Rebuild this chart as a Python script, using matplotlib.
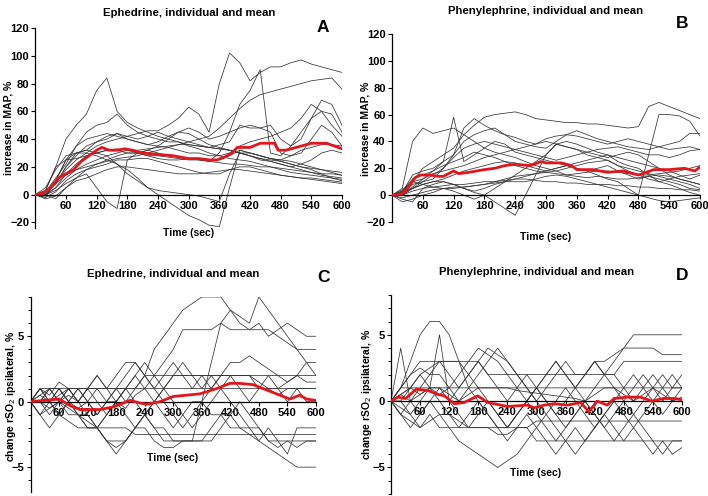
import matplotlib
matplotlib.use("Agg")
import matplotlib.pyplot as plt
from matplotlib.ticker import MultipleLocator, FixedLocator

# ---------------- data ----------------
t_ind = [0, 20, 40, 60, 80, 100, 120, 140, 160, 180, 200, 220, 240, 260, 280, 300,
         320, 340, 360, 380, 400, 420, 440, 460, 480, 500, 520, 540, 560, 580, 600]
x_ticks = [60, 120, 180, 240, 300, 360, 420, 480, 540, 600]

# Panel A: ephedrine, increase in MAP (%)
a_lines = [
    [0, 3, 20, 40, 50, 58, 75, 84, 60, 52, 48, 45, 42, 40, 38, 35, 33, 30, 28, 26, 25, 24, 22, 20, 18, 16, 15, 14, 13, 12, 11],
    [0, 2, 8, 18, 25, 30, 35, 38, 40, 42, 44, 46, 46, 50, 55, 63, 58, 45, 80, 102, 95, 82, 88, 92, 92, 95, 97, 94, 92, 90, 88],
    [0, 0, 5, 15, 22, 28, 30, 32, 32, 30, 30, 28, 28, 27, 26, 25, 25, 24, 30, 45, 65, 75, 90, 30, 28, 35, 45, 55, 60, 58, 45],
    [0, -2, 10, 25, 30, 30, 28, 25, 22, 18, 12, 5, 0, -5, -10, -15, -18, -22, -23, 5, 32, 30, 28, 26, 24, 22, 20, 18, 15, 12, 10],
    [0, 0, -3, 5, 12, 15, 5, -5, -10, 25, 30, 32, 30, 28, 27, 26, 25, 24, 23, 22, 22, 21, 20, 20, 19, 18, 17, 16, 15, 15, 14],
    [0, 0, 8, 20, 30, 32, 30, 28, 22, 15, 10, 5, 3, 2, 1, 0, -1, -3, -5, 15, 30, 28, 26, 25, 24, 22, 20, 19, 18, 17, 16],
    [0, 2, 12, 22, 35, 40, 42, 44, 42, 40, 38, 36, 35, 34, 32, 30, 30, 28, 28, 30, 35, 38, 40, 42, 45, 48, 55, 65, 60, 50, 42],
    [0, 5, 18, 28, 30, 32, 38, 40, 44, 42, 40, 42, 45, 42, 40, 38, 36, 34, 36, 38, 50, 48, 48, 50, 40, 35, 40, 55, 68, 65, 50],
    [0, -2, 2, 10, 15, 18, 20, 22, 25, 25, 26, 26, 24, 22, 20, 18, 16, 15, 15, 18, 20, 20, 18, 16, 14, 13, 12, 12, 11, 10, 9],
    [0, 3, 20, 25, 26, 28, 30, 32, 33, 32, 30, 28, 26, 25, 25, 26, 26, 25, 25, 28, 32, 30, 28, 26, 25, 28, 32, 34, 36, 36, 35],
    [0, 0, 5, 12, 18, 22, 25, 28, 30, 32, 32, 33, 34, 35, 36, 36, 35, 34, 33, 32, 30, 28, 26, 24, 22, 20, 18, 16, 14, 13, 12],
    [0, 1, 8, 20, 28, 35, 38, 42, 44, 40, 38, 36, 38, 42, 45, 44, 40, 36, 34, 32, 30, 28, 25, 24, 22, 20, 22, 25, 30, 32, 30],
    [0, 2, 8, 14, 18, 20, 22, 24, 26, 27, 28, 30, 32, 34, 36, 38, 40, 42, 48, 55, 62, 68, 72, 74, 76, 78, 80, 82, 83, 84, 76],
    [0, 0, 3, 8, 12, 18, 22, 25, 28, 30, 30, 32, 35, 40, 45, 48, 45, 40, 42, 45, 48, 50, 48, 45, 30, 28, 30, 40, 50, 45, 35],
    [0, 2, 10, 25, 35, 45, 50, 52, 58, 50, 45, 42, 40, 38, 38, 36, 35, 34, 33, 32, 30, 30, 28, 26, 25, 24, 22, 20, 18, 16, 14],
    [0, -3, -1, 5, 10, 12, 15, 18, 20, 20, 19, 18, 17, 16, 15, 15, 15, 16, 17, 18, 18, 17, 16, 15, 14, 13, 12, 11, 10, 9, 8],
]
a_mean_t = [0, 15, 30, 45, 60, 75, 90, 105, 120, 130, 145, 160, 175, 190, 210, 240, 270, 300, 320, 340,
            355, 370, 385, 395, 420, 440, 460, 468, 475, 490, 510, 540, 570, 600]
a_mean_v = [0, 1, 5, 12, 15, 18, 24, 28, 32, 34, 32, 32, 33, 32, 30, 29, 28, 26, 26, 25,
            25, 27, 30, 34, 34, 37, 37, 37, 32, 32, 34, 37, 37, 33]

# Panel B: phenylephrine, increase in MAP (%)
b_lines = [
    [0, 2, 10, 20, 25, 30, 35, 45, 52, 58, 60, 61, 62, 60, 57, 56, 55, 54, 54, 53, 53, 52, 51, 50, 51, 66, 69, 66, 63, 60, 57],
    [0, 5, 40, 50, 46, 48, 50, 45, 40, 35, 32, 30, 28, 25, 22, 20, 18, 15, 14, 13, 14, 13, 12, 12, 13, 14, 12, 10, 8, 5, 4],
    [0, 3, 10, 12, 18, 25, 58, 25, 30, 35, 40, 38, 32, 30, 28, 26, 24, 22, 20, 18, 20, 22, 18, 15, 12, 14, 15, 14, 12, 10, 8],
    [0, 0, 5, 10, 15, 20, 30, 50, 57, 52, 48, 45, 43, 40, 38, 42, 44, 45, 44, 42, 40, 38, 40, 42, 40, 38, 36, 34, 35, 36, 34],
    [0, -3, -5, 5, 8, 10, 8, 5, 3, 5, 8, 10, 12, 14, 16, 18, 20, 22, 20, 18, 15, 12, 10, 5, 0, 30, 60, 60, 59, 55, 44],
    [0, 2, 8, 10, 12, 20, 28, 35, 38, 40, 38, 36, 34, 32, 30, 28, 26, 28, 30, 32, 34, 35, 36, 34, 32, 30, 30, 28, 30, 33, 34],
    [0, 0, 5, 8, 10, 12, 15, 18, 20, 22, 24, 25, 24, 22, 20, 18, 20, 22, 24, 26, 28, 30, 28, 26, 24, 22, 20, 18, 15, 12, 15],
    [0, -5, -3, 0, 2, 5, 3, 0, -3, 0, 5, 10, 15, 20, 25, 30, 38, 40, 38, 35, 32, 30, 25, 22, 20, 15, 10, 8, 5, 2, 0],
    [0, 2, 5, 8, 10, 10, 8, 5, 2, 0, -5, -10, -15, 0, 15, 30, 38, 36, 34, 30, 28, 26, 22, 20, 18, 16, 14, 12, 10, 8, 5],
    [0, 3, 12, 15, 18, 22, 25, 28, 32, 30, 28, 25, 22, 20, 18, 17, 16, 15, 16, 17, 18, 18, 17, 16, 15, 15, 16, 17, 18, 20, 22],
    [0, 0, 3, 5, 6, 7, 8, 8, 9, 10, 10, 11, 12, 12, 11, 10, 10, 9, 9, 8, 8, 8, 7, 7, 6, 6, 5, 5, 4, 4, 3],
    [0, 4, 10, 8, 6, 5, 5, 6, 7, 8, 9, 10, 10, 10, 12, 14, 15, 14, 12, 10, 8, 6, 4, 2, 0, -2, -4, -5, -4, -3, -2],
    [0, 1, 6, 12, 16, 18, 20, 22, 25, 28, 30, 32, 34, 36, 38, 40, 38, 36, 34, 32, 30, 28, 30, 32, 30, 25, 20, 15, 12, 10, 8],
    [0, 2, 15, 18, 20, 25, 30, 40, 45, 48, 50, 45, 40, 38, 36, 35, 40, 45, 48, 45, 42, 40, 38, 36, 35, 34, 36, 38, 40, 46, 46],
    [0, -2, 0, 2, 4, 5, 6, 6, 7, 8, 10, 12, 14, 15, 16, 17, 18, 20, 22, 24, 25, 26, 22, 18, 15, 12, 10, 12, 14, 15, 16],
]
b_mean_t = [0, 20, 30, 45, 55, 75, 90, 100, 120, 130, 150, 180, 200, 220, 240, 270, 290, 300, 330, 350,
            360, 390, 420, 450, 480, 510, 540, 570, 590, 600]
b_mean_v = [0, 1, 5, 13, 15, 15, 14, 14, 18, 16, 17, 19, 20, 22, 23, 22, 25, 24, 24, 22,
            19, 19, 17, 18, 15, 19, 19, 20, 18, 21]

# Panel C: ephedrine, change rSO2 ipsilateral (%)
c_lines = [
    [0, 1, 0, -1, 0, 1, 0, -1, 0, 1, 0, 1, 2, 4, 5, 6, 7, 7.5, 8, 8, 8, 7, 6, 5.5, 6, 5, 5.5, 6, 5.5, 5, 5],
    [0, -1, 0, 1, 0, -0.5, 0, 1, 0, 0, -0.5, 0.5, 1, 2, 3, 4, 5.5, 5.5, 5.5, 5.5, 6, 5.5, 5.5, 5.5, 5.5, 5.5, 5, 4.5, 4, 4, 4],
    [0, 0.5, 1, 0, 0.5, 0, 1, 0, -1, 0, 1, 0, -1, -2, -2, -3, -3, -3, 0, 3, 6, 7, 6.5, 6, 8, 7, 6, 5, 4, 3, 2],
    [0, -1, -2, -1, 0, 1, 0, -1, 0, 1, 2, 3, 2, 1, 2, 3, 2, 1, 2, 1, 2, 3, 3, 3.5, 3, 2.5, 2, 1.5, 2, 3, 3],
    [0, 1, 1, 1, 0, -1, -2, -2, -1, 0, 1, 2, 1, 0, 1, 2, 2, 2, 2, 2, 2, 2, 2, 2, 1.5, 1, 1, 1.5, 2, 1.5, 1.5],
    [0, 0, 1, 1, 1, 1, 1, 1, 1, 1, 1, 1, 1, 1, 1, 1, 1, 1, 1, 1, 1, 1, 1, 1, 1, 1, 1, 1, 1, 1, 1],
    [0, 0, -1, 0, 1, 0, -1, -2, -1, 0, -1, -2, -1, 0, -1, -2, -1, 0, 0, -1, -1, -2, -2, -2.5, -3, -3.5, -4, -4.5, -5, -5, -5],
    [0, 1, 0, -1, -1.5, -2, -2, -2, -3, -3.5, -3, -2, -1, -2, -3, -3, -3, -3, -3, -2, -1, -1, -2, -2, -2, -3, -3.5, -3, -3.5, -3, -3],
    [0, -1, -0.5, 0, -1, -1, -1.5, -2, -2, -2, -2, -2.5, -2.5, -2.5, -2.5, -2.5, -2.5, -2.5, -2.5, -2.5, -2.5, -2.5, -2.5, -2.5, -2.5, -2.5, -2.5, -2.5, -2.5, -2.5, -2.5],
    [0, 0.5, 0, 1, 0, -1, -1, -2, -3, -4, -3, -2, -1, 0, 1, 0, -1, -2, -1, 0, 1, 0, -1, -2, -3, -2, -3, -4, -2, -2, -2],
    [0, 1, 0.5, 1.5, 1, 0, 1, 2, 1, 0, 1, 2, 3, 2, 1, 2, 3, 2, 1, 2, 1, 2, 1, 0, 1, 2, 1, 0, 1, 0, 0],
    [0, 0, -0.5, 0, -0.5, -1, -2, -2, -3, -3, -3, -2, -2, -3, -3.5, -3.5, -3, -3, -3, -3, -2, -1, 0, -1, -2, -3, -3, -3, -3, -3, -3],
    [0, 0, 1, 0, 1, 0, 1, 2, 1, 2, 3, 3, 2, 1, 0, -1, -2, -1, 0, 1, 2, 2, 2, 2, 1, 1, 0.5, 1, 1, 1, 1],
    [0, 0, 0, 0.5, 1, 1, 1, 1, 1, 1, 1, 1, 2, 2, 2, 2, 2, 2, 2, 2, 2, 2, 2, 2, 2, 2, 2, 2, 2, 2, 2],
]
c_mean_t = [0, 27, 60, 83, 104, 146, 174, 209, 230, 244, 272, 300, 328, 356, 391, 419, 440, 468, 496, 517,
            545, 566, 580, 600]
c_mean_v = [0, 0.1, 0.2, -0.3, -0.6, -0.6, -0.4, 0.1, -0.1, -0.2, 0, 0.4, 0.5, 0.6, 1.0, 1.4, 1.4, 1.3, 0.9, 0.6,
            0.2, 0.5, 0.2, 0.1]

# Panel D: phenylephrine, change rSO2 ipsilateral (%)
d_lines = [
    [0, 1, 3, 5, 6, 6, 5, 3, 1, 0, -1, -2, -2, -1, 0, 1, 0, -1, -2, -1, 0, 1, 2, 2, 1, 0, 1, 2, 1, 0, 1],
    [0, 4, 0, 1, 2, 3, 2, 1, 2, 3, 2, 1, 0, 1, 2, 1, 0, -1, 0, 1, 2, 3, 2, 3, 4, 5, 5, 5, 5, 5, 5],
    [0, -1, -2, -1, 0, -1, -2, -3, -3.5, -4, -4.5, -5, -4.5, -4, -3, -2, -1, 0, 1, 0, -1, -2, -1, 0, 1, 2, 1, 0, 1, 2, 1],
    [0, 0.5, 1, 2, 2.5, 3, 3, 3, 2, 3, 4, 3.5, 3, 2, 1, 0, 1, 2, 3, 2, 2, 3, 3, 3.5, 4, 4, 4, 4, 3.5, 3.5, 3.5],
    [0, 1, 2, 3, 3, 3, 3, 3, 3, 3, 2, 2, 2, 2, 2, 2, 2, 2, 2, 2, 2, 2, 2, 2, 3, 3, 3, 3, 3, 3, 3],
    [0, 0, -1, 0, 1, 5, 0, -1, -2, -1, 0, -1, -2, -1, 0, -1, -2, -3, -2, -1, 0, -1, -2, -1, 0, -1, -2, -3, -4, -3, -3],
    [0, -1, -1.5, -2, -1, -2, -2, -2, -2, -2, -2, -2, -2, -2, -2, -3, -3, -3, -3, -3, -3, -3, -3, -3, -3, -3, -3, -3, -3, -3, -3],
    [0, 0, 1, 2, 1, 0, -1, -2, -1, 0, -1, -2, -3, -2, -1, -2, -3, -4, -3, -2, -3, -2, -1, -2, -3, -2, -3, -4, -3, -4, -3.5],
    [0, 0.5, 1, 0.5, 1, 0.5, 1, 2, 3, 4, 3.5, 3, 2, 1, 0, 1, 2, 3, 2, 1, 2, 3, 2, 1, 0, 1, 2, 1, 0, 1, 1],
    [0, 1, 1, 1, 1, 1, 1, 1, 1, 1, 1, 1, 1, 1, 1, 1, 1, 1, 1, 1, 1, 1, 1, 1, 1, 1, 1, 1, 1, 1, 1],
    [0, -0.5, -1, -2, -1.5, -1, -1, -1.5, -2, -2, -2, -2.5, -2.5, -2, -2, -1.5, -1.5, -1.5, -1.5, -1.5, -1.5, -1.5, -1.5, -1.5, -1.5, -1.5, -1.5, -1.5, -1.5, -1.5, -1.5],
    [0, 1, 2, 2.5, 2, 2, 1, 0, 1, 2, 3, 4, 3, 2, 1, 0, -1, -2, -3, -4, -3, -2, -1, 0, -1, -2, -1, 0, -1, 0, 0],
    [0, -1, 0, -1, 0, 1, 0, 1, 2, 1, 0, -1, -2, -1, 0, 1, 2, 3, 2, 1, 0, -1, -2, -3, -2, -1, 0, 1, 2, 1, 2],
    [0, 0.5, 0, 0.5, 1, 1, 0.5, 0, 0.5, 1, 1, 1, 1, 0.8, 0.7, 0.6, 0.5, 0.4, 0.3, 0.2, 0, 0.5, 1, 1, 0.5, 0, 0.5, 1, 0.5, 0, 0.3],
]
d_mean_t = [0, 14, 30, 52, 76, 97, 110, 131, 151, 179, 199, 240, 281, 295, 316, 336, 364, 391, 408, 425,
            446, 460, 487, 514, 538, 562, 586, 600]
d_mean_v = [0, 0.3, 0.2, 0.9, 0.8, 0.5, 0.4, -0.2, -0.1, 0.4, -0.1, -0.4, -0.3, -0.5, -0.3, -0.2, -0.3, -0.1, -0.8, 0,
            -0.3, 0.2, 0.3, 0.3, 0, 0.2, 0.2, 0.1]

titles = ["Ephedrine, individual and mean", "Phenylephrine, individual and mean",
          "Ephedrine, individual and mean", "Phenylephrine, individual and mean"]
letters = ["A", "B", "C", "D"]
ylabel_map = "increase in MAP, %"
ylabel_rso2 = "change rSO$_2$ ipsilateral, %"
xlabel = "Time (sec)"

# ---------------- figure ----------------
REG = "Liberation Sans"
NARROW = ["Liberation Sans Narrow", "Liberation Sans"]
W, H = 708, 496
fig = plt.figure(figsize=(W / 100, H / 100), dpi=100)


def rect(l, r, top, bot):
    return [l / W, 1 - bot / H, (r - l) / W, (bot - top) / H]


axA = fig.add_axes(rect(35.3, 342, 28, 228))
axB = fig.add_axes(rect(392, 700, 34, 222))
axC = fig.add_axes(rect(30.5, 316, 297, 492))
axD = fig.add_axes(rect(391, 682, 295, 494))

LINE_C = "#333333"
RED = "#e3161c"


def panel(ax, lines, mt, mv, ylim, yticks, minor):
    for ln in lines:
        ax.plot(t_ind, ln, color=LINE_C, lw=0.55, zorder=2)
    ax.plot(mt, mv, color=RED, lw=2.0, zorder=4, solid_joinstyle="round")
    ax.set_xlim(0, 600)
    ax.set_ylim(*ylim)
    for s in ("top", "right"):
        ax.spines[s].set_visible(False)
    ax.spines["bottom"].set_position(("data", 0))
    ax.spines["bottom"].set_zorder(3)
    for s in ("bottom", "left"):
        ax.spines[s].set_linewidth(0.9)
    ax.xaxis.set_major_locator(FixedLocator(x_ticks))
    ax.yaxis.set_major_locator(FixedLocator(yticks))
    if minor:
        ax.yaxis.set_minor_locator(MultipleLocator(1))
        ax.tick_params(axis="y", which="minor", length=2.2, width=0.7)
    ax.tick_params(axis="both", which="major", direction="out", length=3, width=0.8, pad=1.5)
    for lbl in ax.get_xticklabels() + ax.get_yticklabels():
        lbl.set_family(NARROW)
        lbl.set_fontweight("bold")
        lbl.set_fontsize(8)
    ax.set_facecolor("none")


panel(axA, a_lines, a_mean_t, a_mean_v, (-24, 120), [-20, 0, 20, 40, 60, 80, 100, 120], False)
panel(axB, b_lines, b_mean_t, b_mean_v, (-20, 120), [-20, 0, 20, 40, 60, 80, 100, 120], False)
panel(axC, c_lines, c_mean_t, c_mean_v, (-6.9, 8), [-5, 0, 5], True)
panel(axD, d_lines, d_mean_t, d_mean_v, (-7, 8), [-5, 0, 5], True)


def ftext(x, y, s, size, **kw):
    fig.text(x / W, 1 - y / H, s, fontsize=size, family=REG, fontweight="bold",
             ha=kw.pop("ha", "center"), va=kw.pop("va", "center"), **kw)


ftext(189, 13, titles[0], 8.2)
ftext(546, 11, titles[1], 8.2)
ftext(173, 274, titles[2], 8.2)
ftext(537, 272, titles[3], 8.2)

ftext(323, 27, letters[0], 12.5)
ftext(682, 24, letters[1], 12.5)
ftext(323, 278, letters[2], 12.5)
ftext(682, 276, letters[3], 12.5)

ftext(189, 233, xlabel, 7.5)
ftext(546, 237, xlabel, 7.5)
ftext(173, 458, xlabel, 7.5)
ftext(536, 473, xlabel, 7.5)

ftext(9, 128, ylabel_map, 7.5, rotation=90)
ftext(366, 129, ylabel_map, 7.5, rotation=90)
ftext(11, 396, ylabel_rso2, 7.5, rotation=90)
ftext(367, 394, ylabel_rso2, 7.5, rotation=90)

fig.savefig("out.png", dpi=100)
